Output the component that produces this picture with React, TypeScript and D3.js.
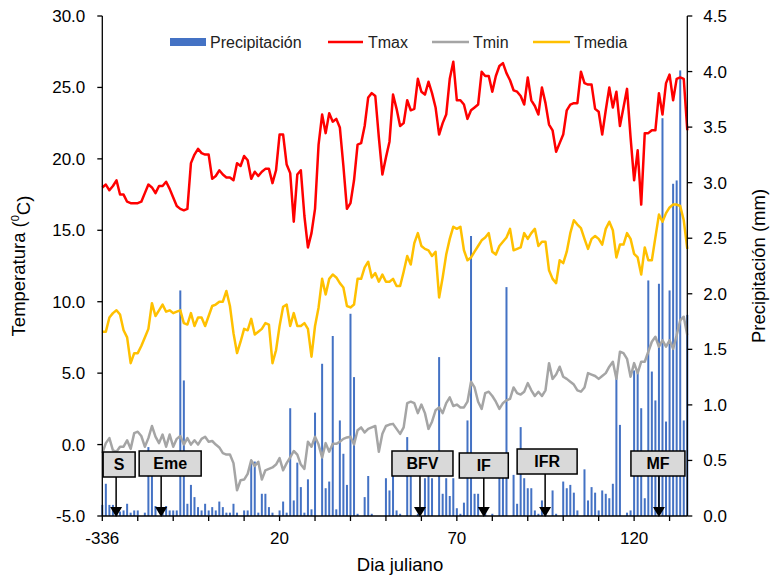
import React from 'react';
import * as d3 from 'd3';

// ---- DATA ----
const seriesNames = ['Precipitación', 'Tmax', 'Tmin', 'Tmedia'];
const xTickLabels = ['-336', '20', '70', '120'];
const xTickIndex = [0, 50, 100, 150];
const yLeftTicks = [-5, 0, 5, 10, 15, 20, 25, 30];
const yRightTicks = [0, 0.5, 1, 1.5, 2, 2.5, 3, 3.5, 4, 4.5];

const tmax = [
  18.0, 18.2, 17.8, 18.1, 18.5, 17.5, 17.5, 17.0, 16.9, 16.9,
  16.9, 17.0, 17.6, 18.2, 18.0, 17.6, 18.1, 18.1, 18.4, 17.9,
  17.3, 16.7, 16.5, 16.4, 16.5, 19.7, 20.3, 20.7, 20.4, 20.3,
  20.3, 18.6, 18.8, 19.2, 18.9, 18.7, 18.7, 18.5, 19.7, 19.5,
  20.2, 19.9, 18.6, 19.1, 18.8, 19.1, 19.3, 19.3, 18.3, 19.2,
  21.7, 21.7, 19.6, 19.0, 15.6, 18.9, 19.2, 16.0, 13.8, 14.8,
  16.5, 21.0, 23.1, 21.8, 23.2, 22.6, 22.8, 22.2, 19.5, 16.5,
  16.9, 18.5, 21.0, 21.1, 22.3, 24.3, 24.6, 24.4, 21.5, 18.9,
  20.1, 21.2, 24.5, 23.5, 22.3, 22.5, 24.1, 23.4, 23.5, 25.6,
  24.7, 24.5, 25.4, 24.6, 23.6, 21.7, 22.5, 23.1, 25.6, 26.8,
  24.1, 24.1, 23.8, 22.8, 23.4, 23.6, 23.8, 26.1, 25.8, 25.8,
  24.7, 25.8, 26.5, 26.7, 26.0, 25.5, 24.8, 24.7, 24.4, 23.8,
  25.7, 24.1, 23.7, 23.1, 25.0, 23.9, 22.4, 22.0, 20.5, 21.1,
  21.7, 23.4, 23.8, 23.9, 23.9, 26.1, 25.3, 25.2, 25.2, 23.5,
  23.3, 21.7, 23.4, 25.0, 23.6, 24.7, 22.3, 23.6, 24.9, 21.5,
  18.5, 20.6, 16.8, 21.8, 21.8, 22.0, 22.0, 24.6, 23.1, 25.3,
  25.9, 24.1, 25.6, 25.7, 25.6, 22.0,
];

const tmin = [
  -0.6, 0.1, 0.45, -0.4, -0.5, -0.15, -0.15, 0.3, -0.3, 0.8,
  0.9, 0.6, -0.15, 0.45, 1.3, 0.55, 0.1, 0.7, -0.15, 0.7,
  -0.15, 0.4, 0.6, 0.0, 0.45, 0.0, 0.3, 0.0, 0.4, 0.55,
  0.2, 0.25, 0.0, -0.2, -0.6, -0.7, -0.7, -1.3, -3.2, -2.5,
  -2.45, -2.05, -1.1, -1.5, -1.2, -2.45, -1.8, -1.7, -1.6, -1.4,
  -0.95, -1.8, -1.3, -0.9, -0.45, -0.7, -1.4, -1.7, 0.2, -0.15,
  0.55, 0.0, -0.9, 0.1, -0.5, 0.05, 0.05, 0.2, 0.4, 0.5,
  0.55, 0.0, 1.0, 1.2, 0.85, 1.1, 1.2, 1.3, -0.5, 0.75,
  1.3, 1.4, 1.45, 1.1, 0.75, 1.2, 2.9, 3.0, 2.9, 2.2,
  2.8, 2.2, 1.1, 1.6, 2.4, 2.6, 2.2, 2.9, 3.3, 2.7,
  2.8, 2.6, 2.6, 3.0, 4.4, 4.0, 3.0, 2.5, 3.6, 3.7,
  3.4, 3.0, 2.5, 2.9, 3.1, 3.2, 4.0, 3.6, 3.5, 3.7,
  4.3, 3.8, 3.4, 3.7, 3.4, 3.8, 5.7, 4.6, 4.9, 5.45,
  4.75, 4.6, 4.4, 4.2, 3.8, 3.7, 4.0, 5.0, 4.9, 4.8,
  4.6, 4.8, 5.0, 5.45, 5.8, 4.6, 6.5, 6.4, 6.0, 4.75,
  5.7, 5.0, 5.8, 5.8, 6.5, 7.2, 7.55, 6.85, 7.3, 6.85,
  7.3, 6.7, 7.65, 8.7, 8.95, 7.65,
];

const tmedia = [
  7.9, 7.9, 8.9, 9.2, 9.4, 9.1, 8.0, 7.5, 5.7, 6.4,
  6.4, 6.9, 7.5, 8.1, 9.9, 9.0, 9.4, 9.8, 9.3, 9.4,
  9.2, 9.3, 9.4, 8.5, 8.4, 9.2, 8.3, 8.9, 8.9, 8.3,
  9.0, 9.7, 9.8, 10.0, 10.0, 10.75, 9.7, 7.8, 6.4, 7.2,
  8.1, 8.0, 8.8, 7.7, 7.9, 8.1, 8.5, 8.4, 5.7, 6.6,
  8.3, 9.65, 9.8, 8.3, 9.2, 8.3, 8.3, 8.5, 8.1, 6.15,
  8.3, 9.6, 11.6, 10.5, 11.6, 11.9, 11.7, 11.3, 11.0, 9.7,
  9.6, 9.8, 11.6, 11.6, 12.4, 12.8, 11.7, 12.0, 11.4, 11.9,
  11.4, 11.4, 11.6, 11.1, 11.1, 12.1, 13.2, 12.6, 14.1, 14.8,
  13.9, 13.7, 13.6, 13.2, 13.5, 10.3, 11.7, 13.3, 14.4, 15.25,
  15.1, 15.25, 13.6, 12.9, 13.1, 13.5, 13.9, 14.3, 14.5, 14.8,
  13.5, 13.3, 13.9, 14.2, 14.5, 15.1, 13.6, 13.7, 13.8, 14.8,
  14.4, 14.8, 15.1, 13.9, 14.2, 14.2, 12.2, 11.6, 11.3, 12.9,
  12.7, 13.5, 14.8, 15.7, 15.4, 15.15, 14.4, 13.7, 14.4, 14.6,
  14.4, 14.0, 15.1, 15.6, 15.0, 13.1, 14.0, 14.0, 14.8, 14.4,
  13.35, 13.1, 11.9, 13.8, 12.9, 12.9, 14.5, 16.1, 15.6, 16.2,
  16.6, 16.8, 16.8, 16.7, 15.7, 13.7,
];

const precip = [
  0.1, 0.29, 0.1, 0.1, 0.05, 0.04, 0.05, 0.11, 0.03, 0.05,
  0.05, 0, 0.03, 0.62, 0.57, 0.09, 0, 0.03, 0.09, 0.05,
  0.05, 0.05, 2.03, 1.22, 0.11, 0.28, 0.17, 0.08, 0.05, 0.11,
  0.05, 0.08, 0.05, 0.13, 0.08, 0.03, 0.03, 0.11, 0.03, 0,
  0.05, 0.05, 0.5, 0.49, 0.03, 0.2, 0.2, 0.08, 0.03, 0,
  0.05, 0.13, 0.03, 0.97, 0.14, 0.48, 0.26, 0.03, 0.33, 0.06,
  0.93, 0, 1.37, 0.25, 0.31, 1.62, 0.06, 0.86, 0.56, 0.28,
  1.82, 1.25, 0.02, 0, 0.17, 0.36, 0.02, 0, 0, 0,
  0.34, 0.23, 0.36, 0.05, 0.02, 0, 0.71, 0.36, 0, 0.02,
  0, 0.34, 0.36, 0.34, 0, 1.43, 0.2, 0.34, 0.18, 0.34,
  0.07, 0.02, 0.12, 0.86, 2.52, 0.2, 0.2, 0, 0.04, 0,
  0.02, 0, 0.35, 0.35, 2.06, 0, 0.37, 0.11, 0.8, 0.34,
  0.25, 0.25, 0.05, 0.02, 0.14, 0.02, 0, 0.23, 0.02, 0,
  0.31, 0.25, 0.28, 0.21, 0.05, 0, 0.42, 0.14, 0.26, 0.21,
  0.05, 0.23, 0.2, 0.16, 0.29, 1.3, 0.82, 0, 0.03, 0.05,
  1.31, 1.3, 0.97, 0.16, 2.12, 1.3, 1.04, 2.09, 3.58, 0.85,
  2.03, 2.99, 3.02, 4.01, 0.86, 1.81,
];

const eventLabels = ['S', 'Eme', 'BFV', 'IF', 'IFR', 'MF'];
const eventDay = [3.9, 16.6, 89.6, 107.6, 124.9, 157.0];

// ---- LAYOUT / STYLE ----
const W = 771;
const H = 577;
const M = { left: 102.3, right: 687.3, top: 16, bottom: 516 };
const FONT = '"Liberation Sans", Arial, Helvetica, sans-serif';
const colors = { precip: '#4472C4', tmax: '#FF0000', tmin: '#A5A5A5', tmedia: '#FFC000' };
// box geometry per event: [dx of box center from arrow, width, top y]
const boxLayout = [
  [3, 32, 452],
  [9, 62, 451],
  [2.5, 61, 451],
  [0, 49, 453],
  [2, 60, 449],
  [-1, 54, 451],
];

export default function App() {
  const n = tmax.length;
  const x = d3.scaleLinear().domain([0, n - 1]).range([M.left, M.right]);
  const yL = d3.scaleLinear().domain([-5, 30]).range([M.bottom, M.top]);
  const yR = d3.scaleLinear().domain([0, 4.5]).range([M.bottom, M.top]);
  const line = d3
    .line<number>()
    .x((_, i) => x(i))
    .y((v) => yL(v));

  const xMinor = d3.range(0, n, 10);
  const barW = 2;

  const legendItems = [
    { name: seriesNames[0], kind: 'rect', color: colors.precip, x0: 170, x1: 206, tx: 210 },
    { name: seriesNames[1], kind: 'line', color: colors.tmax, x0: 328, x1: 363, tx: 368 },
    { name: seriesNames[2], kind: 'line', color: colors.tmin, x0: 432, x1: 469, tx: 473 },
    { name: seriesNames[3], kind: 'line', color: colors.tmedia, x0: 533, x1: 570, tx: 574 },
  ];

  return (
    <svg
      width={W}
      height={H}
      style={{ position: 'absolute', left: 0, top: 0, background: '#fff' }}
      fontFamily={FONT}
    >
      <rect x={0} y={0} width={W} height={H} fill="#fff" />
      {/* bars */}
      <g>
        {precip.map((p, i) =>
          p > 0 ? (
            <rect
              key={i}
              x={x(i) - barW / 2}
              y={yR(p)}
              width={barW}
              height={yR(0) - yR(p)}
              fill={colors.precip}
            />
          ) : null
        )}
      </g>
      {/* lines */}
      <path d={line(tmax) || ''} fill="none" stroke={colors.tmax} strokeWidth={2.5} strokeLinejoin="round" />
      <path d={line(tmin) || ''} fill="none" stroke={colors.tmin} strokeWidth={2.5} strokeLinejoin="round" />
      <path d={line(tmedia) || ''} fill="none" stroke={colors.tmedia} strokeWidth={2.5} strokeLinejoin="round" />

      {/* axes */}
      <g stroke="#000" strokeWidth={1.3}>
        <line x1={M.left} x2={M.left} y1={M.top} y2={M.bottom} />
        <line x1={M.right} x2={M.right} y1={M.top} y2={M.bottom} />
        <line x1={M.left} x2={M.right} y1={M.bottom} y2={M.bottom} />
        {yLeftTicks.map((t) => (
          <line key={'l' + t} x1={M.left - 5} x2={M.left} y1={yL(t)} y2={yL(t)} />
        ))}
        {yRightTicks.map((t) => (
          <line key={'r' + t} x1={M.right} x2={M.right + 5} y1={yR(t)} y2={yR(t)} />
        ))}
        {xMinor.map((t) => (
          <line key={'x' + t} x1={x(t)} x2={x(t)} y1={M.bottom} y2={M.bottom + 5} />
        ))}
      </g>
      <g fontSize={17} fill="#000">
        {yLeftTicks.map((t) => (
          <text key={'lt' + t} x={M.left - 17} y={yL(t)} dy="0.35em" textAnchor="end">
            {t.toFixed(1)}
          </text>
        ))}
        {yRightTicks.map((t) => (
          <text key={'rt' + t} x={M.right + 16} y={yR(t)} dy="0.35em" textAnchor="start">
            {t.toFixed(1)}
          </text>
        ))}
        {xTickIndex.map((t, i) => (
          <text key={'xt' + t} x={x(t)} y={M.bottom + 22} dy="0.35em" textAnchor="middle">
            {xTickLabels[i]}
          </text>
        ))}
      </g>
      {/* axis titles */}
      <text x={400} y={565} fontSize={18.5} textAnchor="middle" dy="0.35em">
        Dia juliano
      </text>
      <text
        transform={`translate(19,${(M.top + M.bottom) / 2}) rotate(-90)`}
        fontSize={18.5}
        textAnchor="middle"
        dy="0.35em"
      >
        Temperatura (<tspan fontSize={11} dy="-0.6em">0</tspan>
        <tspan dy="0.6em">C)</tspan>
      </text>
      <text
        transform={`translate(759,${(M.top + M.bottom) / 2}) rotate(-90)`}
        fontSize={18.5}
        textAnchor="middle"
        dy="0.35em"
      >
        Precipitación (mm)
      </text>

      {/* legend */}
      <g fontSize={16}>
        {legendItems.map((it) => (
          <g key={it.name}>
            {it.kind === 'rect' ? (
              <rect x={it.x0} y={38} width={it.x1 - it.x0} height={8} fill={it.color} />
            ) : (
              <line x1={it.x0} x2={it.x1} y1={42} y2={42} stroke={it.color} strokeWidth={2.5} />
            )}
            <text x={it.tx} y={42} dy="0.35em" fill="#222">
              {it.name}
            </text>
          </g>
        ))}
      </g>

      {/* phenological events */}
      {eventLabels.map((lab, i) => {
        const ax = x(eventDay[i]);
        const [dx, bw, by] = boxLayout[i];
        const bh = 25;
        const cx = ax + dx;
        return (
          <g key={lab}>
            <rect x={cx - bw / 2} y={by} width={bw} height={bh} fill="#D9D9D9" stroke="#000" strokeWidth={1.5} />
            <text x={cx} y={by + bh / 2} dy="0.36em" textAnchor="middle" fontSize={16} fontWeight="bold">
              {lab}
            </text>
            <line x1={ax} x2={ax} y1={by + bh} y2={M.bottom - 8} stroke="#000" strokeWidth={1.5} />
            <path d={`M${ax - 6},${M.bottom - 9} L${ax + 6},${M.bottom - 9} L${ax},${M.bottom + 1} Z`} fill="#000" />
          </g>
        );
      })}
    </svg>
  );
}
